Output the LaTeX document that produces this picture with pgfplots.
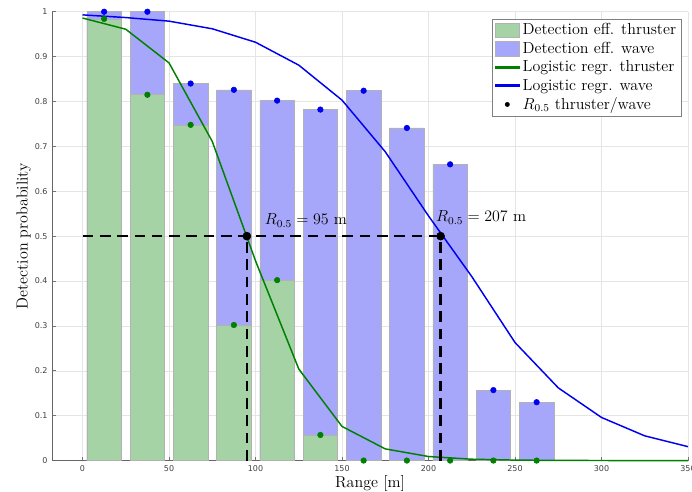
\documentclass[border=0pt]{standalone}
\usepackage{fontspec}
\usepackage{pgfplots}
\usepackage{pgfplotstable}
\pgfplotsset{compat=1.18}
\newfontfamily\tickfont{DejaVu Sans}
\definecolor{barblue}{RGB}{166,166,250}
\definecolor{bargreen}{RGB}{166,211,166}
\definecolor{dgreen}{RGB}{0,128,0}
\definecolor{lblue}{RGB}{0,0,240}

\pgfplotstableread{
x wave thruster
12.5  1.000 0.984
37.5  1.000 0.815
62.5  0.840 0.748
87.5  0.826 0.302
112.5 0.802 0.402
137.5 0.782 0.057
162.5 0.824 0
187.5 0.741 0
212.5 0.660 0
237.5 0.157 0
262.5 0.130 0
}\bins

\pgfplotstableread{
x thruster wave
0   0.986  0.993
25  0.961  0.987
50  0.886  0.979
75  0.711  0.962
100 0.445  0.932
125 0.204  0.881
150 0.076  0.803
175 0.026  0.688
200 0.009  0.545
225 0.003  0.410
250 0.001  0.263
275 0.0003 0.162
300 0.0001 0.096
325 0.0    0.055
350 0.0    0.031
}\logit

\pgfplotsset{
  barleg/.style={legend image code/.code={\draw[##1] (0pt,-5.5pt) rectangle (18pt,5.5pt);}},
  lineleg/.style={legend image code/.code={\fill[fill=#1] (0pt,-0.42pt) rectangle (18pt,0.42pt);}},
}

\begin{document}
\begin{tikzpicture}
\begin{axis}[
  scale only axis, width=477pt, height=336.75pt,
  xmin=-17.5, xmax=350, ymin=0, ymax=1,
  clip=false,
  axis lines*=left,
  axis line style={black!60, line width=0.6pt},
  xtick={0,50,100,150,200,250,300,350},
  ytick={0,0.1,0.2,0.3,0.4,0.5,0.6,0.7,0.8,0.9,1},
  grid=major,
  grid style={black!10, line width=0.4pt},
  tick align=inside, major tick length=3pt,
  tick style={black!55, line width=0.5pt},
  /pgf/number format/assume math mode=true,
  tick label style={font=\tickfont\fontsize{6}{7}\selectfont, text=black!75},
  xlabel={Range [m]},
  ylabel={Detection probability},
  label style={font=\fontsize{12}{14}\selectfont},
  xlabel style={at={(axis description cs:0.5,0)}, anchor=center, yshift=-17.5pt},
  ylabel style={at={(axis description cs:-0.045,0.5)}, anchor=center},
  legend style={at={(1,1)}, anchor=north east, xshift=-5.2pt, yshift=-5.2pt,
    draw=black!50, fill=white,
    font=\fontsize{12}{14}\selectfont, cells={anchor=west}, inner sep=1.5pt},
]
% bars (green first for legend order, redrawn on top afterwards)
\addplot[ybar, bar width=20, bar shift=0pt, fill=bargreen, draw=black!30, line width=0.4pt, barleg]
  table[x=x, y=thruster] {\bins};
\addlegendentry{Detection eff. thruster}
\addplot[ybar, bar width=20, bar shift=0pt, fill=barblue, draw=black!30, line width=0.4pt, barleg]
  table[x=x, y=wave] {\bins};
\addlegendentry{Detection eff. wave}
\addplot[ybar, bar width=20, bar shift=0pt, fill=bargreen, draw=black!30, line width=0.4pt, forget plot]
  table[x=x, y=thruster] {\bins};
% logistic curves
\addplot[dgreen, line width=1.1pt, mark=none, lineleg=dgreen] table[x=x, y=thruster] {\logit};
\addlegendentry{Logistic regr. thruster}
\addplot[lblue, line width=1.1pt, mark=none, lineleg=lblue] table[x=x, y=wave] {\logit};
\addlegendentry{Logistic regr. wave}
% dots on bars
\addplot[only marks, mark=*, mark size=2.1pt, draw=dgreen, fill=dgreen, forget plot]
  table[x=x, y=thruster] {\bins};
\addplot[only marks, mark=*, mark size=2.1pt, draw=lblue, fill=lblue, forget plot]
  table[x=x, y=wave] {\bins};
% R0.5 dashed lines
\addplot[black, line width=1.8pt, dash pattern=on 8pt off 5pt, forget plot] coordinates {(0,0.5) (207,0.5)};
\addplot[black, line width=1.8pt, dash pattern=on 8pt off 5pt, forget plot] coordinates {(95,0) (95,0.5)};
\addplot[black, line width=1.8pt, dash pattern=on 8pt off 5pt, forget plot] coordinates {(207,0) (207,0.5)};
\addplot[only marks, mark=*, mark size=3pt, black,
  legend image code/.code={\fill[black] (9pt,0pt) circle (1.6pt);}] coordinates {(95,0.5) (207,0.5)};
\addlegendentry{$R_{0.5}$ thruster/wave}

\node[anchor=base west, inner sep=0pt, font=\fontsize{12}{14}\selectfont] at (axis cs:105.3,0.525) {$R_{0.5} = 95$ m};
\node[anchor=base west, inner sep=0pt, font=\fontsize{12}{14}\selectfont] at (axis cs:204.3,0.532) {$R_{0.5} = 207$ m};
\end{axis}
\pgfresetboundingbox
\path[use as bounding box] ([xshift=-39.2pt,yshift=-23.5pt]current axis.south west) rectangle ([xshift=3pt,yshift=8.8pt]current axis.north east);
\end{tikzpicture}
\end{document}
